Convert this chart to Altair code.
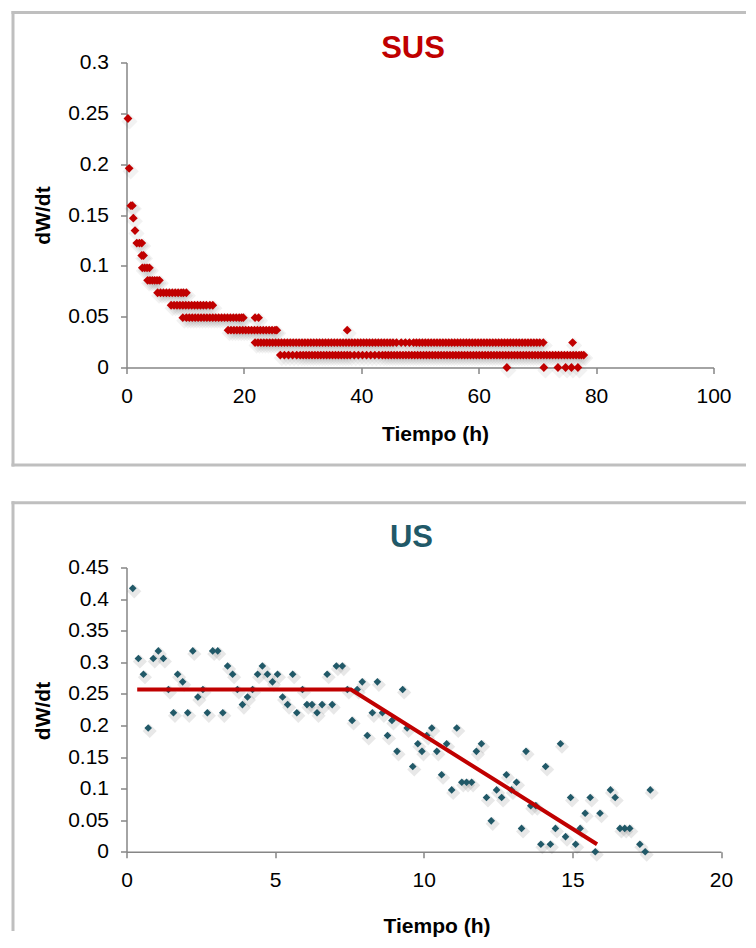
import altair as alt
import pandas as pd

# ---------------- SUS panel data (dW/dt levels and the times observed at each level) ----------------
sus_levels = [0.2449, 0.1959, 0.1592, 0.1469, 0.1347, 0.1224, 0.1102, 0.0980,
              0.0857, 0.0735, 0.0612, 0.0490, 0.0367, 0.0245, 0.0122, 0.0]
sus_times = [
    [0.25],
    [0.45],
    [0.75, 1.0],
    [1.16],
    [1.45],
    [1.75, 2.2, 2.6],
    [2.6, 2.9],
    [2.7, 3.1, 3.5, 3.9],
    [3.6, 4.0, 4.4, 4.8, 5.2, 5.6],
    [5.3, 5.8, 6.3, 6.8, 7.3, 7.8, 8.3, 8.8, 9.3, 9.7, 10.2],
    [7.6, 8.1, 8.6, 9.1, 9.6, 10.1, 10.6, 11.1, 11.6, 12.1, 12.6, 13.1, 13.6, 14.2, 14.7],
    [9.6, 10.2, 10.7, 11.2, 11.7, 12.2, 12.7, 13.2, 13.7, 14.2, 14.7, 15.2, 15.7, 16.2,
     16.7, 17.2, 17.7, 18.2, 18.7, 19.2, 19.6, 19.9, 21.9, 22.5],
    [17.3, 17.8, 18.3, 18.8, 19.3, 19.8, 20.3, 20.8, 21.3, 21.8, 22.3, 22.8, 23.3, 23.8,
     24.3, 24.8, 25.3, 25.6, 37.6],
    [21.9, 22.4, 22.9, 23.4, 23.9, 24.4, 24.9, 25.4, 25.9, 26.4, 26.9, 27.4, 27.9, 28.4,
     28.9, 29.4, 29.9, 30.4, 30.9, 31.4, 31.9, 32.4, 32.9, 33.4, 33.9, 34.4, 34.9, 35.4,
     35.9, 36.4, 36.9, 37.4, 37.9, 38.4, 38.9, 39.4, 39.9, 40.4, 40.9, 41.4, 41.9, 42.4,
     42.9, 43.4, 43.9, 44.4, 44.9, 45.4, 46.0, 46.8, 47.5, 48.2, 48.9, 49.4, 49.9, 50.4,
     50.9, 51.4, 51.9, 52.4, 52.9, 53.4, 53.9, 54.4, 54.9, 55.4, 55.9, 56.4, 56.9, 57.4,
     57.9, 58.4, 58.9, 59.4, 59.9, 60.4, 60.9, 61.4, 61.9, 62.4, 62.9, 63.4, 63.9, 64.4,
     64.9, 65.4, 65.9, 66.4, 66.9, 67.4, 67.9, 68.4, 68.9, 69.4, 69.9, 70.4, 71.0, 76.0],
    [26.2, 26.9, 27.6, 28.3, 29.0, 29.6, 30.1, 30.6, 31.1, 31.6, 32.1, 32.6, 33.1, 33.6,
     34.1, 34.6, 35.1, 35.6, 36.1, 36.6, 37.1, 37.6, 38.1, 38.8, 39.5, 40.2, 40.9, 41.6,
     42.3, 43.0, 43.6, 44.1, 44.6, 45.1, 45.6, 46.1, 46.6, 47.1, 47.6, 48.1, 48.6, 49.1,
     49.6, 50.1, 50.6, 51.1, 51.6, 52.1, 52.6, 53.1, 53.6, 54.1, 54.6, 55.1, 55.6, 56.1,
     56.6, 57.1, 57.6, 58.1, 58.6, 59.1, 59.6, 60.1, 60.6, 61.1, 61.6, 62.1, 62.6, 63.1,
     63.6, 64.1, 64.6, 65.1, 65.6, 66.1, 66.6, 67.1, 67.6, 68.1, 68.6, 69.1, 69.6, 70.1,
     70.6, 71.1, 71.6, 72.1, 72.6, 73.1, 73.6, 74.1, 74.6, 75.1, 75.6, 76.1, 76.6, 77.1,
     77.5, 77.9],
    [64.8, 71.1, 73.5, 74.8, 75.8, 76.9],
]

# ---------------- US panel data ----------------
us_time = [0.21, 0.40, 0.57, 0.73, 0.90, 1.07, 1.24, 1.41, 1.58, 1.72, 1.89, 2.06, 2.23, 2.40,
           2.57, 2.72, 2.90, 3.07, 3.24, 3.40, 3.57, 3.73, 3.90, 4.07, 4.24, 4.41, 4.57, 4.74,
           4.91, 5.08, 5.25, 5.42, 5.59, 5.73, 5.92, 6.07, 6.24, 6.41, 6.58, 6.75, 6.92, 7.06,
           7.26, 7.43, 7.59, 7.76, 7.93, 8.10, 8.27, 8.44, 8.61, 8.78, 8.93, 9.10, 9.29, 9.44,
           9.63, 9.80, 9.94, 10.10, 10.27, 10.44, 10.60, 10.77, 10.94, 11.11, 11.28, 11.44,
           11.61, 11.77, 11.94, 12.11, 12.27, 12.45, 12.62, 12.78, 12.95, 13.12, 13.29, 13.44,
           13.60, 13.77, 13.94, 14.10, 14.26, 14.43, 14.60, 14.77, 14.94, 15.11, 15.26, 15.43,
           15.60, 15.77, 15.93, 16.28, 16.44, 16.60, 16.76, 16.93, 17.27, 17.45, 17.62]
us_dwdt = [0.417, 0.306, 0.281, 0.196, 0.306, 0.318, 0.306, 0.257, 0.220, 0.281, 0.269, 0.220,
           0.318, 0.245, 0.257, 0.220, 0.318, 0.318, 0.220, 0.294, 0.281, 0.257, 0.233, 0.245,
           0.257, 0.281, 0.294, 0.281, 0.269, 0.281, 0.245, 0.233, 0.281, 0.220, 0.257, 0.233,
           0.233, 0.220, 0.233, 0.281, 0.233, 0.294, 0.294, 0.257, 0.208, 0.257, 0.269, 0.184,
           0.220, 0.269, 0.220, 0.184, 0.208, 0.159, 0.257, 0.196, 0.135, 0.171, 0.159, 0.184,
           0.196, 0.159, 0.122, 0.171, 0.098, 0.196, 0.110, 0.110, 0.110, 0.159, 0.171, 0.086,
           0.049, 0.098, 0.086, 0.122, 0.098, 0.110, 0.037, 0.159, 0.073, 0.073, 0.012, 0.135,
           0.012, 0.037, 0.171, 0.024, 0.086, 0.012, 0.037, 0.061, 0.086, 0.0, 0.061, 0.098,
           0.086, 0.037, 0.037, 0.037, 0.012, 0.0, 0.098]

fit_time = [0.36, 7.55, 15.83]
fit_dwdt = [0.257, 0.257, 0.012]

sus_x_ticks = [0, 20, 40, 60, 80, 100]
sus_y_ticks = [0, 0.05, 0.1, 0.15, 0.2, 0.25, 0.3]
us_x_ticks = [0, 5, 10, 15, 20]
us_y_ticks = [0, 0.05, 0.1, 0.15, 0.2, 0.25, 0.3, 0.35, 0.4, 0.45]

# ---------------- tables ----------------
sus_rows = []
for lvl, ts in zip(sus_levels, sus_times):
    for t in ts:
        sus_rows.append({"t": t, "v": lvl})
sus_df = pd.DataFrame(sus_rows)
us_df = pd.DataFrame({"t": us_time, "v": us_dwdt})
fit_df = pd.DataFrame({"t": fit_time, "v": fit_dwdt})

FONT = "Liberation Sans"
RED = "#C00000"
TEAL = "#215968"
BORDER = "#BFBFBF"
SHADOW = "#404040"
BLANK = alt.Data(values=[{}])
FMT = ".2~f"


def hrule(x1, x2, y):
    return alt.Chart(BLANK).mark_rule(color=BORDER, strokeWidth=3, strokeCap="square").encode(
        x=alt.value(x1), x2=alt.value(x2), y=alt.value(y))


def vrule(x, y1, y2):
    return alt.Chart(BLANK).mark_rule(color=BORDER, strokeWidth=3, strokeCap="square").encode(
        x=alt.value(x), y=alt.value(y1), y2=alt.value(y2))


def label(text, x, y, color):
    return alt.Chart(BLANK).mark_text(
        font=FONT, fontSize=31, fontWeight="bold", color=color,
        align="center", baseline="middle").encode(
        x=alt.value(x), y=alt.value(y), text=alt.value(text))


# ---------------- SUS panel ----------------
W1, H1 = 587, 305
sx1 = alt.X("t:Q", scale=alt.Scale(domain=[0, 100], nice=False),
            axis=alt.Axis(values=sus_x_ticks, format=FMT, title="Tiempo (h)",
                          titleX=308.5, titleY=67, titleAlign="center",
                          titleBaseline="middle", titleAngle=0))
sy1 = alt.Y("v:Q", scale=alt.Scale(domain=[0, 0.3], nice=False),
            axis=alt.Axis(values=sus_y_ticks, format=FMT, title="dW/dt",
                          titleX=-83.5, titleY=152.5, titleAlign="center",
                          titleBaseline="middle", titleAngle=270))

sus_shadow = alt.Chart(sus_df).mark_point(
    shape="diamond", filled=True, size=260, color=SHADOW, opacity=0.07).encode(
    x=sx1, y=sy1, xOffset=alt.value(1.5), yOffset=alt.value(3))
sus_pts = alt.Chart(sus_df).mark_point(
    shape="diamond", filled=True, size=78, color=RED, opacity=1).encode(x=sx1, y=sy1)

top = alt.layer(
    vrule(-113.5, -50, 402.5),
    hrule(-113.5, 618, -50),
    hrule(-113.5, 618, 402.5),
    sus_shadow,
    sus_pts,
    label("SUS", 286.5, -13.2, RED),
).properties(width=W1, height=H1)

# ---------------- US panel ----------------
W2, H2 = 594.5, 284.3
sx2 = alt.X("t:Q", scale=alt.Scale(domain=[0, 20], nice=False),
            axis=alt.Axis(values=us_x_ticks, format=FMT, title="Tiempo (h)",
                          titleX=310, titleY=75, titleAlign="center",
                          titleBaseline="middle", titleAngle=0))
sy2 = alt.Y("v:Q", scale=alt.Scale(domain=[0, 0.45], nice=False),
            axis=alt.Axis(values=us_y_ticks, format=FMT, title="dW/dt",
                          titleX=-83.5, titleY=143, titleAlign="center",
                          titleBaseline="middle", titleAngle=270))

us_shadow = alt.Chart(us_df).mark_point(
    shape="diamond", filled=True, size=200, color=SHADOW, opacity=0.12).encode(
    x=sx2, y=sy2, xOffset=alt.value(1.5), yOffset=alt.value(3))
us_pts = alt.Chart(us_df).mark_point(
    shape="diamond", filled=True, size=58, color=TEAL, opacity=1).encode(x=sx2, y=sy2)
fit_line = alt.Chart(fit_df).mark_line(color=RED, strokeWidth=4).encode(x=sx2, y=sy2)

bottom = alt.layer(
    vrule(-113.5, -64.7, 362),
    hrule(-113.5, 618, -64.7),
    us_shadow,
    us_pts,
    fit_line,
    label("US", 285, -29.9, TEAL),
).properties(width=W2, height=H2)

chart = alt.vconcat(top, bottom, spacing=33).properties(
    padding={"left": 2.5, "top": 1.5, "right": 0, "bottom": 0}
).configure_axis(
    domainColor="#868686", domainWidth=1.5, tickColor="#868686", tickWidth=1.5,
    tickSize=6, labelFont=FONT, labelFontSize=21, labelColor="#000000",
    labelPadding=12, labelFlush=False, labelOverlap=False, titleFont=FONT,
    titleFontSize=21, titleFontWeight="bold", titleColor="#000000", grid=False
).configure_view(strokeWidth=0)

chart.save("out.html", embed_options={"renderer": "svg", "actions": False})
